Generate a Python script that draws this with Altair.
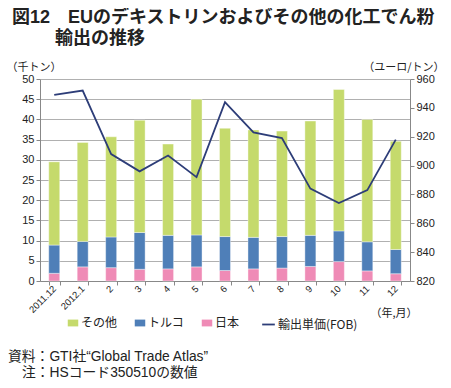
import altair as alt
import pandas as pd

months = ["2011.12", "2012.1", "2", "3", "4", "5", "6", "7", "8", "9", "10", "11", "12"]
japan = [1.9, 3.5, 3.3, 2.9, 3.0, 3.5, 2.6, 3.0, 3.2, 3.6, 4.8, 2.5, 1.8]
turkey = [7.0, 6.3, 7.6, 9.1, 8.3, 7.9, 8.4, 7.8, 7.8, 7.7, 7.6, 7.2, 6.0]
other = [20.6, 24.5, 24.8, 27.8, 22.6, 33.6, 26.8, 26.6, 26.1, 28.3, 35.0, 30.3, 26.8]
price = [949, 952, 908, 896, 907, 892, 944, 923, 919, 884, 874, 883, 918]

series = ["その他", "トルコ", "日本"]
colors = ["#c5da6c", "#4f7fb8", "#ef8bb6"]
line_name = "輸出単価(FOB)"

title_line1 = "図12　EUのデキストリンおよびその他の化工でん粉"
title_line2 = "輸出の推移"
note1 = "資料：GTI社“Global Trade Atlas”"
note2 = "注：HSコード350510の数値"

FONT = "Noto Sans CJK JP"
MIXED = "Liberation Sans, Noto Sans CJK JP"

rows = []
for i, m in enumerate(months):
    rows.append({"month": m, "series": "日本", "value": japan[i], "ord": 0})
    rows.append({"month": m, "series": "トルコ", "value": turkey[i], "ord": 1})
    rows.append({"month": m, "series": "その他", "value": other[i], "ord": 2})
bars_df = pd.DataFrame(rows)
line_df = pd.DataFrame({"month": months, "price": price, "name": [line_name] * len(months)})

W, H = 370, 202

xenc = alt.X(
    "month:N",
    sort=months,
    scale=alt.Scale(paddingInner=0.6, paddingOuter=0.3),
    axis=alt.Axis(
        title="（年,月）",
        titleAngle=0,
        titleX=W - 40,
        titleY=32,
        titleAlign="left",
        titleBaseline="middle",
        titleFontSize=11,
        titleFontWeight="normal",
        titleFont=FONT,
        titleColor="#222",
        labelAngle=-45,
        labelAlign="right",
        labelBaseline="middle",
        labelFontSize=9.5,
        labelColor="#222",
        labelFont="Liberation Sans",
        labelPadding=2,
        tickBand="extent",
        tickSize=4,
        tickColor="#888",
        domainColor="#888",
        grid=False,
    ),
)

bars = alt.Chart(bars_df).mark_bar(size=11, stroke="white", strokeWidth=0.4).encode(
    x=xenc,
    y=alt.Y(
        "sum(value):Q",
        stack="zero",
        scale=alt.Scale(domain=[0, 50], nice=False),
        axis=alt.Axis(
            values=list(range(0, 51, 5)),
            title="（千トン）",
            titleAngle=0,
            titleX=-34,
            titleY=-12,
            titleAlign="left",
            titleBaseline="middle",
            titleFontSize=11,
            titleFontWeight="normal",
            titleFont=FONT,
            titleColor="#222",
            labelFontSize=11,
            labelColor="#222",
            labelFont="Liberation Sans",
            tickSize=4,
            tickColor="#888",
            domainColor="#888",
            gridColor="#b0b0b0",
            gridWidth=1,
        ),
    ),
    color=alt.Color(
        "series:N",
        scale=alt.Scale(domain=series, range=colors),
        legend=alt.Legend(
            title=None,
            orient="none",
            direction="horizontal",
            legendX=27,
            legendY=238,
            symbolType="M-1,-0.65H1V0.65H-1Z",
            symbolSize=110,
            symbolStrokeWidth=0,
            labelFontSize=12,
            labelFont=FONT,
            labelColor="#222",
            columnPadding=16,
            labelOffset=2,
        ),
    ),
    order=alt.Order("ord:Q", sort="ascending"),
)

line = alt.Chart(line_df).mark_line(strokeWidth=1.8).encode(
    x=alt.X("month:N", sort=months),
    y=alt.Y(
        "price:Q",
        scale=alt.Scale(domain=[820, 960], nice=False),
        axis=alt.Axis(
            orient="right",
            values=list(range(820, 961, 20)),
            title="（ユーロ/トン）",
            titleAngle=0,
            titleX=34,
            titleY=-12,
            titleAlign="right",
            titleBaseline="middle",
            titleFontSize=11,
            titleFontWeight="normal",
            titleFont=FONT,
            titleColor="#222",
            labelFontSize=11,
            labelColor="#222",
            labelFont="Liberation Sans",
            tickSize=4,
            tickColor="#888",
            domainColor="#888",
            grid=False,
        ),
    ),
    stroke=alt.Stroke(
        "name:N",
        scale=alt.Scale(domain=[line_name], range=["#2d3d78"]),
        legend=alt.Legend(
            title=None,
            orient="none",
            legendX=221,
            legendY=238,
            symbolType="stroke",
            symbolSize=160,
            symbolStrokeWidth=1.8,
            labelFontSize=12,
            labelFont=FONT,
            labelColor="#222",
            labelOffset=2,
        ),
    ),
)


def text_layer(txt, x, y, size, weight="normal"):
    return alt.Chart(pd.DataFrame({"t": [txt]})).mark_text(
        align="left", baseline="middle", fontSize=size, font=MIXED,
        fontWeight=weight, color="#222"
    ).encode(x=alt.value(x), y=alt.value(y), text="t:N")


t1 = text_layer(title_line1, -28, -61, 18, "bold")
t2 = text_layer(title_line2, 15, -40, 18, "bold")
n1 = text_layer(note1, -32, 278, 13.8)
n2 = text_layer(note2, -18, 294, 13.8)

chart = (
    alt.layer(bars, line, t1, t2, n1, n2)
    .resolve_scale(y="independent", color="independent", stroke="independent")
    .properties(
        width=W,
        height=H,
        autosize=alt.AutoSizeParams(type="none"),
        padding={"left": 32, "top": 71, "right": 33, "bottom": 99},
    )
    .configure_view(stroke=None)
)

chart.save("out.html", embed_options={"renderer": "svg", "actions": False})
